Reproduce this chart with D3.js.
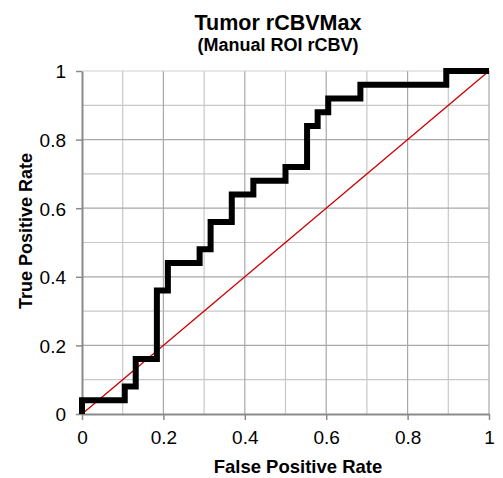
<!DOCTYPE html>
<html>
<head>
<meta charset="utf-8">
<script src="https://cdnjs.cloudflare.com/ajax/libs/d3/7.8.5/d3.min.js"></script>
<style>
  body { margin: 0; background: #fff; }
  text { font-family: "Liberation Sans", Arial, Helvetica, sans-serif; fill: #000; }
</style>
</head>
<body>
<div id="chart"></div>
<script>
// ROC step corners (stepBefore: rise at x, then run to next x)
var fpr = [0, 0.105, 0.132, 0.184, 0.211, 0.289, 0.316, 0.368, 0.421, 0.5, 0.553, 0.579, 0.605, 0.684, 0.895, 1.0];
var tpr = [0, 0.04, 0.08, 0.16, 0.36, 0.44, 0.48, 0.56, 0.64, 0.68, 0.72, 0.84, 0.88, 0.92, 0.96, 1.0];
var chance = [0, 1];
var majorTicks = [0, 0.2, 0.4, 0.6, 0.8, 1];
var minorTicks = [0.1, 0.3, 0.5, 0.7, 0.9];
var tickLabels = ["0", "0.2", "0.4", "0.6", "0.8", "1"];

var W = 503, H = 478;
var margin = {left: 82, right: 14, top: 71, bottom: 64};

var svg = d3.select("#chart").append("svg")
    .attr("width", W)
    .attr("height", H);

var x = d3.scaleLinear().domain([0, 1]).range([margin.left, W - margin.right]);
var y = d3.scaleLinear().domain([0, 1]).range([H - margin.bottom, margin.top]);

// grid
var grid = svg.append("g");
grid.selectAll(".vmin").data(minorTicks).enter().append("line")
    .attr("x1", d => x(d)).attr("x2", d => x(d))
    .attr("y1", y(0)).attr("y2", y(1))
    .attr("stroke", "#c8c8c8").attr("stroke-width", 1.2);
grid.selectAll(".hmin").data(minorTicks).enter().append("line")
    .attr("x1", x(0)).attr("x2", x(1))
    .attr("y1", d => y(d)).attr("y2", d => y(d))
    .attr("stroke", "#c8c8c8").attr("stroke-width", 1.2);
grid.selectAll(".vmaj").data(majorTicks.slice(1)).enter().append("line")
    .attr("x1", d => x(d)).attr("x2", d => x(d))
    .attr("y1", y(0)).attr("y2", y(1))
    .attr("stroke", "#a8a8a8").attr("stroke-width", 1.2);
grid.selectAll(".hmaj").data(majorTicks.slice(1)).enter().append("line")
    .attr("x1", x(0)).attr("x2", x(1))
    .attr("y1", d => y(d)).attr("y2", d => y(d))
    .attr("stroke", d => d === 1 ? "#d0d0d0" : "#a8a8a8").attr("stroke-width", 1.2);

// axes
var xAxis = d3.axisBottom(x).tickValues(majorTicks)
    .tickFormat((d, i) => tickLabels[i]).tickSizeInner(6).tickSizeOuter(0).tickPadding(11);
var yAxis = d3.axisLeft(y).tickValues(majorTicks)
    .tickFormat((d, i) => tickLabels[i]).tickSizeInner(6).tickSizeOuter(0).tickPadding(10);

var gx = svg.append("g").attr("transform", "translate(0," + y(0) + ")").call(xAxis);
var gy = svg.append("g").attr("transform", "translate(" + x(0) + ",0)").call(yAxis);
[gx, gy].forEach(function(g) {
  g.select(".domain").attr("stroke", "#8a8a8a").attr("stroke-width", 2);
  g.selectAll(".tick line").attr("stroke", "#8a8a8a").attr("stroke-width", 1.5);
  g.selectAll(".tick text").attr("font-size", 19).attr("font-family", "Liberation Sans, Arial, sans-serif").attr("fill", "#000");
});
gy.selectAll(".tick text").attr("dy", "0.36em");
gx.selectAll(".tick text").attr("dy", "0.7em");

// chance diagonal
svg.append("line")
    .attr("x1", x(chance[0])).attr("y1", y(chance[0]))
    .attr("x2", x(chance[1])).attr("y2", y(chance[1]))
    .attr("stroke", "#cc0000").attr("stroke-width", 1.3);

// ROC curve
var pts = fpr.map((f, i) => [f, tpr[i]]);
var line = d3.line()
    .x(d => x(d[0])).y(d => y(d[1]))
    .curve(d3.curveStepBefore);
svg.append("path")
    .datum(pts)
    .attr("d", line)
    .attr("fill", "none")
    .attr("stroke", "#000")
    .attr("stroke-width", 6)
    .attr("stroke-linejoin", "miter")
    .attr("stroke-linecap", "butt");

// titles
svg.append("text").attr("x", 278).attr("y", 30)
    .attr("text-anchor", "middle").attr("font-size", 21.5).attr("font-weight", "bold")
    .text("Tumor rCBVMax");
svg.append("text").attr("x", 278).attr("y", 51)
    .attr("text-anchor", "middle").attr("font-size", 18).attr("font-weight", "bold")
    .text("(Manual ROI rCBV)");

svg.append("text").attr("x", 298).attr("y", 473)
    .attr("text-anchor", "middle").attr("font-size", 18.5).attr("font-weight", "bold")
    .text("False Positive Rate");
svg.append("text")
    .attr("transform", "translate(32,231) rotate(-90)")
    .attr("text-anchor", "middle").attr("font-size", 18).attr("font-weight", "bold")
    .text("True Positive Rate");
</script>
</body>
</html>
